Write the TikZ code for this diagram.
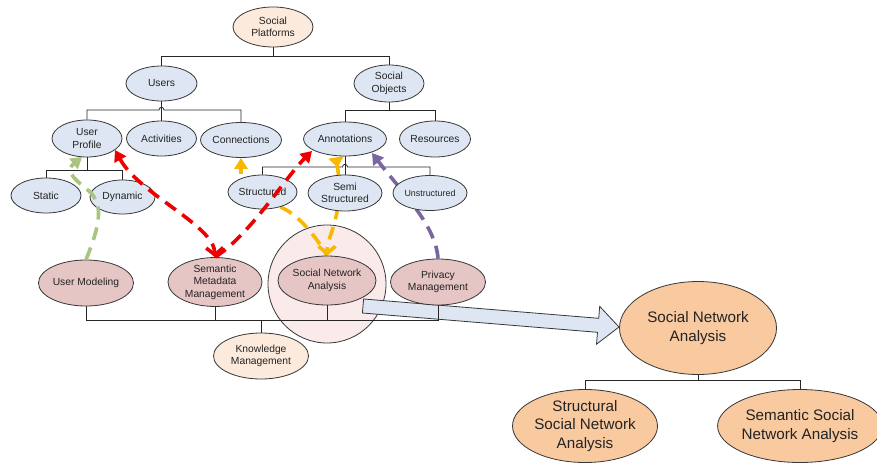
\documentclass[tikz,border=0pt]{standalone}
\usepackage{fontspec}
\setmainfont{Liberation Sans}
\usetikzlibrary{shapes.geometric,arrows.meta,calc}
\pgfdeclarelayer{bg}
\pgfdeclarelayer{mid}
\pgfdeclarelayer{front}
\pgfsetlayers{bg,mid,main,front}

\definecolor{nodeblue}{RGB}{221,230,242}
\definecolor{nodepeach}{RGB}{252,234,220}
\definecolor{nodepink}{RGB}{230,197,197}
\definecolor{ringpink}{RGB}{250,234,234}
\definecolor{nodeorange}{RGB}{249,201,160}
\definecolor{edgegray}{RGB}{55,55,55}
\definecolor{textgray}{RGB}{35,35,35}
\definecolor{flowgreen}{RGB}{169,196,127}
\definecolor{flowred}{RGB}{238,0,0}
\definecolor{flowyellow}{RGB}{247,185,0}
\definecolor{flowpurple}{RGB}{122,102,160}

\tikzset{
  headtip/.tip={Triangle[length=11pt,width=13pt]},
  barbtip/.tip={Straight Barb[length=7pt,width=17pt]},
  revtip/.tip={Triangle[reversed,length=10pt,width=15pt]},
}

\begin{document}
\begin{tikzpicture}[x=1pt,y=-1pt,
  every node/.style={text=textgray},
  box/.style={ellipse, draw=edgegray, line width=0.8pt, inner sep=0pt, align=center,
    font=\fontsize{10.3}{12.5}\selectfont},
  bluebox/.style={box, fill=nodeblue, minimum width=70pt, minimum height=35pt},
  peachbox/.style={box, fill=nodepeach},
  pinkbox/.style={box, fill=nodepink, minimum width=95pt, minimum height=46pt},
  bigbox/.style={box, fill=nodeorange, font=\fontsize{15.2}{18.7}\selectfont},
  tree/.style={draw=black!85, line width=0.8pt},
  flow/.style={line width=3.6pt, dash pattern=on 13pt off 8pt},
]
\useasboundingbox (0,0) rectangle (877,468);

% ---- nodes ----
\node[peachbox, minimum width=80pt, minimum height=40pt] (SP) at (273,27) {Social\\Platforms};
\node[bluebox, minimum width=71pt] (Users) at (161.5,83.5) {Users};
\node[bluebox, minimum height=37pt] (SO) at (389,83.5) {Social\\Objects};
\node[bluebox, minimum height=37pt] (UP) at (87,138.5) {User\\Profile};
\node[bluebox] (Act) at (161.5,138.5) {Activities};
\node[bluebox, minimum width=81pt] (Conn) at (241,140) {Connections};
\node[bluebox, minimum width=83pt, minimum height=34pt] (Ann) at (345,139) {Annotations};
\node[bluebox, minimum width=71pt, minimum height=36pt] (Res) at (435,139) {Resources};
\node[bluebox] (Static) at (46,195.5) {Static};
\node[bluebox, minimum width=65pt, minimum height=34pt] (Dyn) at (122.5,197) {Dynamic};
\node[bluebox, minimum width=69pt, minimum height=34pt] (Str) at (262.5,192) {Structured};
\node[bluebox, minimum width=74pt, minimum height=36pt] (Semi) at (345,193) {Semi\\Structured};
\node[bluebox, minimum width=74pt, font=\fontsize{8.9}{11}\selectfont] (Unstr) at (430,193) {Unstructured};

\node[pinkbox] (UM) at (86,283) {User Modeling};
\node[pinkbox, minimum width=94pt] (SMM) at (215,282) {Semantic\\Metadata\\Management};
\node[pinkbox, minimum width=98pt, minimum height=49pt] (SNA) at (327,280.5) {Social Network\\Analysis};
\node[pinkbox] (PM) at (438,282) {Privacy\\Management};
\node[peachbox, minimum width=95pt, minimum height=46pt] (KM) at (261,356) {Knowledge\\Management};

\node[bigbox, minimum width=157pt, minimum height=93pt] (BigSNA) at (698,328) {Social Network\\Analysis};
\node[bigbox, minimum width=145pt, minimum height=73pt] (StrSNA) at (585,426) {Structural\\Social Network\\Analysis};
\node[bigbox, minimum width=145pt, minimum height=73pt] (SemSNA) at (800,426) {Semantic Social\\Network Analysis};

% ---- background: highlight ring and zoom arrow ----
\begin{pgfonlayer}{bg}
  \fill[white] (0,0) rectangle (877,468);
  \draw[edgegray, line width=0.8pt, fill=ringpink] (SNA.center) ++(0,3.5) circle[radius=59pt];
  \draw[edgegray, line width=0.8pt, fill=nodeblue, line join=miter]
    (363.6,299) -- (598.7,318.3) -- (599.7,306.4) -- (619,327)
    -- (596.5,344.2) -- (597.5,332.3) -- (362.4,313) -- cycle;
\end{pgfonlayer}

% ---- hierarchy lines ----
\begin{pgfonlayer}{mid}
  \draw[tree] (SP.south) -- ++(0,9.5) coordinate (jSP) -| (Users.north);
  \draw[tree] (jSP) -| (SO.north);

  \draw[tree] (Users.south) -- (Act.north);
  \draw[tree] (UP.north) |- (159,110) .. controls (159,106.5) and (164,106.5) .. (164,110) -| (Conn.north);

  \draw[tree] (SO.south) -- ++(0,8.5) coordinate (jSO) -| (Ann.north);
  \draw[tree] (jSO) -| (Res.north);

  \draw[tree] (UP.south) -- ++(0,13) coordinate (jUP) -| (Static.north);
  \draw[tree] (jUP) -| (Dyn.north);

  \draw[tree] (Ann.south) -- (Semi.north);
  \draw[tree] (Str.north) |- (342.5,167) .. controls (342.5,163.5) and (347.5,163.5) .. (347.5,167) -| (Unstr.north);

  \coordinate (bus) at (0,320);
  \draw[tree] (UM.south) |- (PM.south |- bus) -- (PM.south);
  \draw[tree] (SMM.south) -- (SMM.south |- bus);
  \draw[tree] (SNA.south) -- (SNA.south |- bus);
  \draw[tree] (KM.north) -- (KM.north |- bus);

  \draw[tree] (BigSNA.south) -- ++(0,5.5) coordinate (jB) -| (StrSNA.north);
  \draw[tree] (jB) -| (SemSNA.north);

  % flows that pass behind the nodes
  \draw[flow, draw=flowyellow, -{headtip}] ($(Conn.south)+(0,37)$) -- (Conn.south);
  \draw[flow, draw=flowyellow] (Str.-40) .. controls (300,215) and (318,240) .. (SNA.north);
  \draw[flow, draw=flowyellow, {revtip}-{barbtip}]
    (336,157.5) .. controls (345,215) and (327,235) .. (SNA.north);
  \draw[flow, draw=flowpurple, -{headtip}] (PM.north) .. controls (436,225) and (400,190) .. (372,153);
\end{pgfonlayer}

% ---- flows drawn over the nodes ----
\begin{pgfonlayer}{front}
  \draw[flow, draw=flowgreen, -{headtip}] (UM.north)
    .. controls (100,225) and (104,205) .. (89,191)
    .. controls (70,176) and (66,170) .. (82,157);
  \draw[flow, draw=flowred, {headtip}-{barbtip}] (115,150) .. controls (140,195) and (214,225) .. (SMM.north);
  \draw[flow, draw=flowred, -{headtip}] (SMM.north) .. controls (250,235) and (285,178) .. (312,151);
\end{pgfonlayer}
\end{tikzpicture}
\end{document}
